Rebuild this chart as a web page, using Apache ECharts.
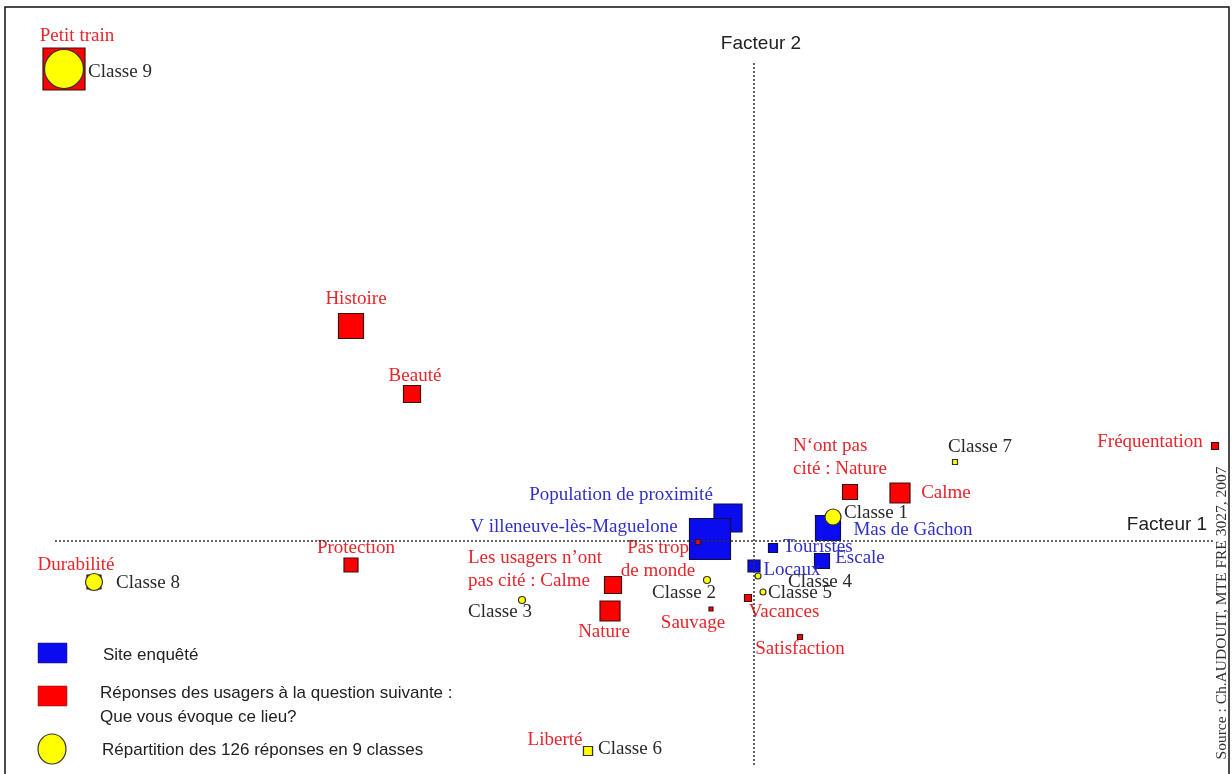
<!DOCTYPE html>
<html>
<head>
<meta charset="utf-8">
<script src="https://cdn.jsdelivr.net/npm/echarts@6/dist/echarts.min.js"></script>
<style>html,body{margin:0;padding:0;background:#fff}#c{width:1232px;height:774px}</style>
</head>
<body>
<div id="c"></div>
<script>
const siteNames = ['Population de proximité', 'V illeneuve-lès-Maguelone', 'Mas de Gâchon', 'Touristes', 'Escale', 'Locaux'];
const siteX = [-0.26, -0.44, 0.74, 0.19, 0.68, 0.00];
const siteY = [0.23, 0.02, 0.13, -0.07, -0.20, -0.25];
const siteWeight = [28, 41, 25, 9, 15, 12];

const responseNames = ['Petit train', 'Histoire', 'Beauté', 'Protection', 'Durabilité',
  'Les usagers n\u2019ont\npas cité : Calme', 'Nature', 'Pas trop\nde monde', 'Sauvage', 'Vacances',
  'Satisfaction', 'N\u2018ont pas\ncité : Nature', 'Calme', 'Fréquentation', 'Liberté'];
const responseX = [-6.90, -4.03, -3.42, -4.03, -6.60, -1.41, -1.44, -0.56, -0.43, -0.06, 0.46, 0.96, 1.46, 4.61, -1.66];
const responseY = [4.72, 2.15, 1.47, -0.24, -0.41, -0.44, -0.70, -0.01, -0.68, -0.57, -0.96, 0.49, 0.48, 0.95, -2.10];
const responseWeight = [42, 25, 17, 14, 14, 17, 20, 5, 4, 7, 5, 15, 20, 7, 9];

const classNames = ['Classe 1', 'Classe 2', 'Classe 3', 'Classe 4', 'Classe 5', 'Classe 6', 'Classe 7', 'Classe 8', 'Classe 9'];
const classX = [0.79, -0.47, -2.32, 0.04, 0.09, -1.66, 2.01, -6.60, -6.90];
const classY = [0.24, -0.39, -0.59, -0.35, -0.51, -2.10, 0.79, -0.41, 4.72];
const classWeight = [16, 7, 7, 6, 6, 9, 5, 17, 39];

const axisTitles = ['Facteur 1', 'Facteur 2'];
const legendTexts = ['Site enquêté', 'Réponses des usagers à la question suivante :\nQue vous évoque ce lieu?', 'Répartition des 126 réponses en 9 classes'];
const sourceText = 'Source : Ch.AUDOUIT, MTE FRE 3027, 2007';

// ---- Label layout (pixel offsets from mark centre) ----
const siteLabelLayout = [[-107, -23], [-136, -12], [85, 2], [45, -1], [38, -3], [38, 4]];
const responseLabelLayout = [[13, -33], [5, -27], [3, -18], [5, -17], [-18, -17], [-145, -15, 'left'], [-6, 21], [-40, 18],
  [-18, 14], [36, 14], [0, 12], [-57, -34, 'left'], [46, 0], [-65, -4], [-33, -11]];
const classLabelLayout = [[43, -4], [-23, 13], [-22, 12], [62, 6], [37, 1], [42, -2], [25, -15], [54, 1], [56, 3]];
const classSymbols = ['circle', 'circle', 'circle', 'circle', 'circle', 'rect', 'rect', 'circle', 'circle'];

function build(names, xs, ys, ws, layout, symbols) {
  return names.map((n, i) => {
    const l = layout[i];
    const item = {
      name: n,
      value: [xs[i], ys[i]],
      symbolSize: ws[i],
      label: { offset: [l[0], l[1]], align: l[2] || 'center' }
    };
    if (symbols) item.symbol = symbols[i];
    return item;
  });
}

const serif = 'Liberation Serif, Times New Roman, serif';
const baseLabel = {
  show: true, position: 'inside', formatter: '{b}',
  fontFamily: serif, fontSize: 19, lineHeight: 23, verticalAlign: 'middle'
};
const sans = 'Liberation Sans, Arial, sans-serif';

const chart = echarts.init(document.getElementById('c'), null, { renderer: 'canvas' });
chart.setOption({
  backgroundColor: '#ffffff',
  animation: false,
  grid: { left: 0, right: 0, top: 0, bottom: 0 },
  xAxis: { type: 'value', min: -7.54, max: 4.78, show: false },
  yAxis: { type: 'value', min: -2.33, max: 5.41, show: false },
  series: [
    {
      type: 'scatter', name: 'axes', data: [], silent: true,
      markLine: {
        silent: true, symbol: 'none', label: { show: false },
        lineStyle: { type: [2, 2], color: '#333', width: 1.5, opacity: 1 },
        data: [
          [{ coord: [-6.99, 0] }, { coord: [4.61, 0] }],
          [{ coord: [0, 4.78] }, { coord: [0, -2.24] }]
        ]
      }
    },
    {
      type: 'scatter', name: 'Site enquêté', symbol: 'rect', silent: true,
      itemStyle: { color: '#0b0bf0', borderColor: '#101040', borderWidth: 1.2, opacity: 1 },
      label: Object.assign({}, baseLabel, { color: '#3030c8' }),
      data: build(siteNames, siteX, siteY, siteWeight, siteLabelLayout)
    },
    {
      type: 'scatter', name: 'Réponses', symbol: 'rect', silent: true,
      itemStyle: { color: '#ff0000', borderColor: '#3a1010', borderWidth: 1.2, opacity: 1 },
      label: Object.assign({}, baseLabel, { color: '#e8252b' }),
      data: build(responseNames, responseX, responseY, responseWeight, responseLabelLayout)
    },
    {
      type: 'scatter', name: 'Classes', silent: true,
      itemStyle: { color: '#ffff00', borderColor: '#333', borderWidth: 1.2, opacity: 1 },
      label: Object.assign({}, baseLabel, { color: '#2a2a2a' }),
      data: build(classNames, classX, classY, classWeight, classLabelLayout, classSymbols)
    }
  ],
  graphic: [
    { type: 'rect', silent: true, shape: { x: 5, y: 7, width: 1224, height: 820 },
      style: { fill: 'none', stroke: '#111', lineWidth: 1.5 } },
    { type: 'text', x: 761, y: 44, style: { text: axisTitles[1], font: '19px ' + sans, fill: '#222', textAlign: 'center', textVerticalAlign: 'middle' } },
    { type: 'text', x: 1167, y: 525, style: { text: axisTitles[0], font: '19px ' + sans, fill: '#222', textAlign: 'center', textVerticalAlign: 'middle' } },
    { type: 'text', x: 1222, y: 613, rotation: Math.PI / 2, style: { text: sourceText, font: '15.5px ' + serif, fill: '#333', textAlign: 'center', textVerticalAlign: 'middle' } },
    // legend
    { type: 'rect', shape: { x: 38, y: 643, width: 29, height: 20 }, style: { fill: '#0b0bf0', stroke: '#1a1a60', lineWidth: 0.5 } },
    { type: 'text', x: 103, y: 655, style: { text: legendTexts[0], font: '17px ' + sans, fill: '#222', textVerticalAlign: 'middle' } },
    { type: 'rect', shape: { x: 38, y: 686, width: 29, height: 20 }, style: { fill: '#ff0000', stroke: '#601a1a', lineWidth: 0.5 } },
    { type: 'text', x: 100, y: 705, style: { text: legendTexts[1], font: '17px ' + sans, fill: '#222', textVerticalAlign: 'middle', lineHeight: 24 } },
    { type: 'ellipse', shape: { cx: 52, cy: 749, rx: 14, ry: 15 }, style: { fill: '#ffff00', stroke: '#333', lineWidth: 1.2 } },
    { type: 'text', x: 102, y: 750, style: { text: legendTexts[2], font: '17px ' + sans, fill: '#222', textVerticalAlign: 'middle' } }
  ]
});
</script>
</body>
</html>
